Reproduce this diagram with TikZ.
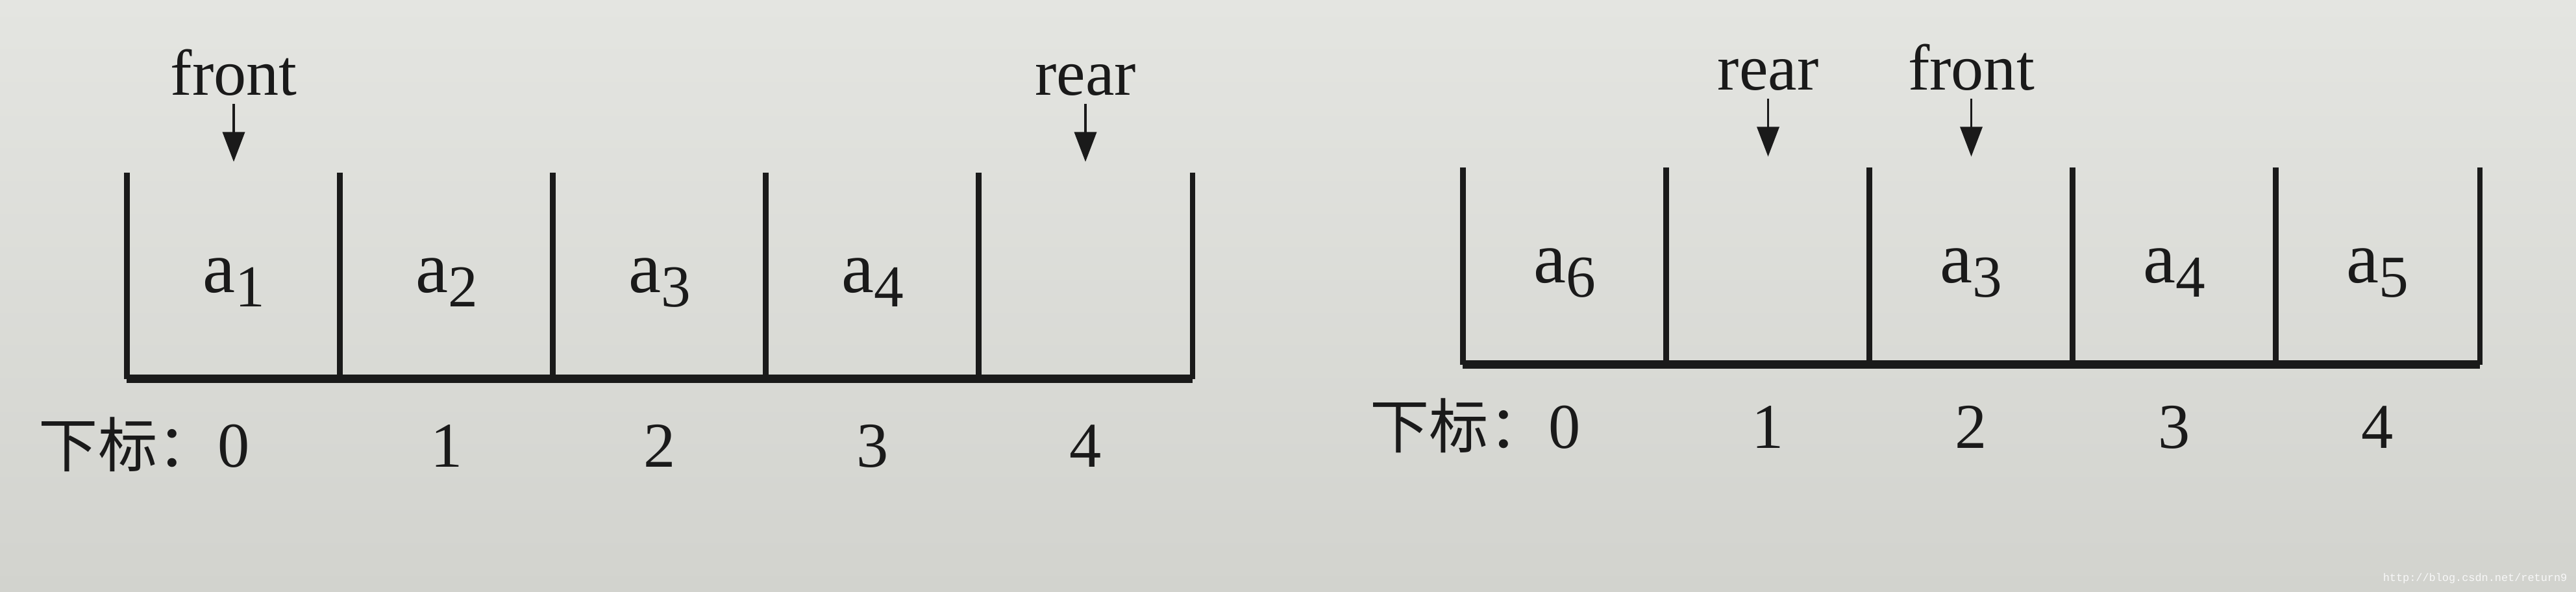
\documentclass[tikz,border=0pt]{standalone}
\usepackage{fontspec}
\setmainfont{Liberation Serif}
\newfontfamily\cjk{Noto Sans CJK SC}
\setmonofont{Liberation Mono}
\usetikzlibrary{positioning,arrows.meta}
\definecolor{papertop}{RGB}{228,229,225}
\definecolor{paperbot}{RGB}{210,211,206}
\definecolor{ink}{RGB}{26,26,26}
\newcommand{\elem}[1]{a\raisebox{-0.22cm}[0pt][0pt]{\fontsize{26}{26}\selectfont #1}}
\tikzset{
  lcell/.style={minimum width=3.28cm, minimum height=3.16cm, inner sep=0, font=\fontsize{32}{32}\selectfont},
  rcell/.style={minimum width=3.13cm, minimum height=3.02cm, inner sep=0, font=\fontsize{32}{32}\selectfont},
  wall/.style={line width=2.4pt, draw=ink},
  floor/.style={line width=3.8pt, draw=ink, line cap=square},
  ptrtext/.style={font=\fontsize{28.5}{28.5}\selectfont},
  ptr/.style={line width=1.1pt, draw=ink, -{Triangle[length=0.46cm,width=0.34cm]}, shorten >=0.17cm},
  idx/.style={font=\fontsize{28}{28}\selectfont, inner sep=0},
  idxcjk/.style={font=\cjk\fontsize{26}{26}\selectfont, inner sep=0, anchor=base east},
}
\begin{document}
\begin{tikzpicture}[text=ink]
    \shade[top color=papertop, bottom color=paperbot] (0,0) rectangle (39.68,9.12);
    \useasboundingbox (0,0) rectangle (39.68,9.12);
    % left queue
    \node[lcell] (LA) at (3.60,4.87) {\elem{1}};
    \node[lcell] (LB) at (6.88,4.87) {\elem{2}};
    \node[lcell] (LC) at (10.16,4.87) {\elem{3}};
    \node[lcell] (LD) at (13.44,4.87) {\elem{4}};
    \node[lcell] (LE) at (16.72,4.87) {};

    \draw[wall] (LA.north west)--(LA.south west);
    \draw[wall] (LB.north west)--(LB.south west);
    \draw[wall] (LC.north west)--(LC.south west);
    \draw[wall] (LD.north west)--(LD.south west);
    \draw[wall] (LE.north west)--(LE.south west);
    \draw[wall] (LE.north east)--(LE.south east);
    \draw[floor] (LA.south west)--(LE.south east);

    \node[ptrtext, above=1.06cm of LA] (LF) {front};
    \node[ptrtext, above=1.06cm of LE] (LR) {rear};
    \draw[ptr] (LF)--(LA);
    \draw[ptr] (LR)--(LE);

    \node[idx, below=0.70cm of LA] (LI0) {0};
    \node[idx, below=0.70cm of LB] (LI1) {1};
    \node[idx, below=0.70cm of LC] (LI2) {2};
    \node[idx, below=0.70cm of LD] (LI3) {3};
    \node[idx, below=0.70cm of LE] (LI4) {4};
    \node[idxcjk] (LP) at (LI0.base west) {下标：};

    % right queue
    \node[rcell] (RA) at (24.105,5.02) {\elem{6}};
    \node[rcell] (RB) at (27.235,5.02) {};
    \node[rcell] (RC) at (30.365,5.02) {\elem{3}};
    \node[rcell] (RD) at (33.495,5.02) {\elem{4}};
    \node[rcell] (RE) at (36.625,5.02) {\elem{5}};

    \draw[wall] (RA.north west)--(RA.south west);
    \draw[wall] (RB.north west)--(RB.south west);
    \draw[wall] (RC.north west)--(RC.south west);
    \draw[wall] (RD.north west)--(RD.south west);
    \draw[wall] (RE.north west)--(RE.south west);
    \draw[wall] (RE.north east)--(RE.south east);
    \draw[floor] (RA.south west)--(RE.south east);

    \node[ptrtext, above=1.06cm of RB] (RR) {rear};
    \node[ptrtext, above=1.06cm of RC] (RF) {front};
    \draw[ptr] (RR)--(RB);
    \draw[ptr] (RF)--(RC);

    \node[idx, below=0.63cm of RA] (RI0) {0};
    \node[idx, below=0.63cm of RB] (RI1) {1};
    \node[idx, below=0.63cm of RC] (RI2) {2};
    \node[idx, below=0.63cm of RD] (RI3) {3};
    \node[idx, below=0.63cm of RE] (RI4) {4};
    \node[idxcjk] (RP) at (RI0.base west) {下标：};

    \node[anchor=south east, inner sep=0, text=white!85!paperbot, font=\ttfamily\fontsize{4.8}{4.8}\selectfont] (WM) at (39.55,0.12) {http://blog.csdn.net/return9};
\end{tikzpicture}
\end{document}
